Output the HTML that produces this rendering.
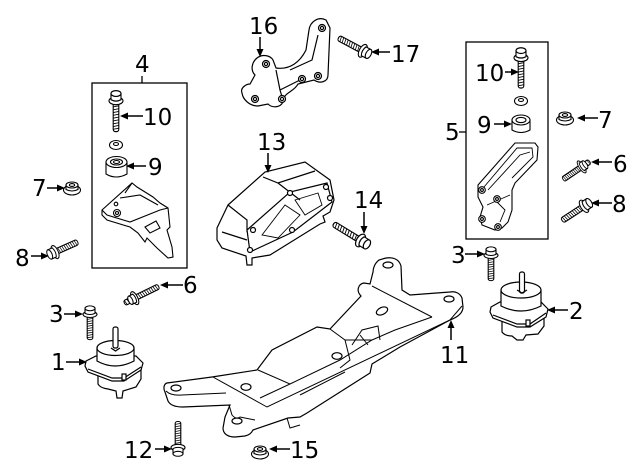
<!DOCTYPE html>
<html><head><meta charset="utf-8"><style>
html,body{margin:0;padding:0;background:#fff;}
body{width:640px;height:471px;overflow:hidden;}
svg{display:block;}
text{font-family:"DejaVu Sans","Liberation Sans",sans-serif;font-size:23px;fill:#000;}
</style></head><body>
<svg width="640" height="471" viewBox="0 0 640 471" xmlns="http://www.w3.org/2000/svg">
<defs>
 <g id="bolt" fill="#fff" stroke="#000" stroke-width="1.1">
  <rect x="-2.8" y="3" width="5.6" height="27" rx="2.2"/>
  <path d="M-2.8,8 L2.8,7 M-2.8,10.5 L2.8,9.5 M-2.8,13 L2.8,12 M-2.8,15.5 L2.8,14.5 M-2.8,18 L2.8,17 M-2.8,20.5 L2.8,19.5 M-2.8,23 L2.8,22 M-2.8,25.5 L2.8,24.5 M-2.8,28 L2.8,27" stroke-width="0.8"/>
  <ellipse cx="0" cy="2.5" rx="7" ry="3.5"/>
  <path d="M-5,-4 L-5,1.5 Q0,4 5,1.5 L5,-4 Z"/>
  <ellipse cx="0" cy="-4" rx="5" ry="2.6"/>
 </g>
 <g id="nut" fill="#fff" stroke="#000" stroke-width="1.1">
  <ellipse cx="0" cy="2" rx="8.5" ry="5"/>
  <path d="M-6,-3 L-6,1.5 Q0,4.5 6,1.5 L6,-3 Z"/>
  <ellipse cx="0" cy="-3" rx="6" ry="3"/>
  <ellipse cx="0" cy="-3" rx="2.6" ry="1.4"/>
 </g>
 <g id="stud" fill="#fff" stroke="#000" stroke-width="1.1">
  <rect x="-2.6" y="-10" width="5.2" height="40" rx="2"/>
  <path d="M-2.6,8 L2.6,7 M-2.6,10.5 L2.6,9.5 M-2.6,13 L2.6,12 M-2.6,15.5 L2.6,14.5 M-2.6,18 L2.6,17 M-2.6,20.5 L2.6,19.5 M-2.6,23 L2.6,22 M-2.6,25.5 L2.6,24.5 M-2.6,28 L2.6,27 M-2.6,-5 L2.6,-6 M-2.6,-8 L2.6,-9" stroke-width="0.8"/>
  <ellipse cx="0" cy="2" rx="7" ry="3.2"/>
  <path d="M-4.5,-3 L-4.5,2 Q0,4 4.5,2 L4.5,-3 Z"/>
  <ellipse cx="0" cy="-3" rx="4.5" ry="2.2"/>
 </g>
</defs>

<!-- boxes -->
<g fill="none" stroke="#000" stroke-width="1.3">
 <rect x="92" y="83" width="95" height="185"/>
 <line x1="142" y1="76" x2="142" y2="83"/>
 <rect x="466" y="42" width="82" height="197"/>
 <line x1="459" y1="132" x2="466" y2="132"/>
</g>

<!-- part 16 bracket -->
<g fill="#fff" stroke="#000" stroke-width="1.2">
 <path d="M257,58 C262,54 270,55 273,60 L276,68 C290,70 300,62 306,50 L309,30 C310,22 318,16 326,20 L330,28 L328,75 C328,82 320,84 314,80 L298,84 C295,90 288,92 285,96 L283,102 C280,108 272,108 268,104 L258,106 C250,106 243,100 242,93 C240,88 246,84 250,84 L255,75 C250,70 252,62 257,58 Z"/>
 <path d="M276,70 L280,90 L283,100 M280,90 L300,80 M290,70 L312,60 L318,35" fill="none"/>
 <circle cx="266" cy="64" r="3.5"/><circle cx="266" cy="64" r="1.6"/>
 <circle cx="255" cy="99" r="3.5"/><circle cx="255" cy="99" r="1.6"/>
 <circle cx="282" cy="99" r="3.5"/><circle cx="282" cy="99" r="1.6"/>
 <circle cx="302" cy="79" r="3.5"/><circle cx="302" cy="79" r="1.6"/>
 <circle cx="318" cy="76" r="3.5"/><circle cx="318" cy="76" r="1.6"/>
 <circle cx="322" cy="28" r="3.5"/><circle cx="322" cy="28" r="1.6"/>
</g>

<!-- bolt 17 -->
<use href="#bolt" transform="translate(365,52) rotate(118)"/>

<!-- part 13 housing -->
<g fill="#fff" stroke="#000" stroke-width="1.2">
 <path d="M228,205 L265,172 L305,162 L330,180 L334,200 L330,212 L323,216 L325,222 L320,224 L270,255 L252,258 L252,265 L247,265 L246,256 L222,248 L217,240 L217,228 Z"/>
 <path d="M263,177 L278,183 L315,171 M278,183 L300,200 M228,205 L247,220 L247,232 M222,232 L247,240 M247,230 L290,192 L327,183 L332,202 L293,232 L250,252 Z" fill="none"/>
 <path d="M262,235 L285,205 L300,215 L278,238 Z M295,200 L318,193 L322,205 L305,215 Z" fill="none" stroke-width="0.9"/>
 <circle cx="253" cy="230" r="2.5"/><circle cx="290" cy="193" r="2.5"/><circle cx="326" cy="187" r="2.5"/>
 <circle cx="330" cy="198" r="2.5"/><circle cx="292" cy="230" r="2.5"/><circle cx="250" cy="250" r="2.5"/>
</g>

<!-- bolt 14 -->
<use href="#bolt" transform="translate(363,242) rotate(121.5) scale(1,1.15)"/>

<!-- box 4 contents -->
<use href="#bolt" transform="translate(116,98) scale(1,1.12)"/>
<g fill="#fff" stroke="#000" stroke-width="1.1">
 <ellipse cx="116" cy="145" rx="6.5" ry="4.5"/><ellipse cx="116" cy="144" rx="2.5" ry="1.5"/>
 <path d="M106,162 L106,174 Q116,180 127,174 L127,162 Z"/>
 <ellipse cx="116.5" cy="162" rx="10.5" ry="5.5"/>
 <ellipse cx="116.5" cy="162" rx="6" ry="3"/><ellipse cx="116.5" cy="162" rx="3" ry="1.5"/>
 <path d="M102,210 L132,183 L137,187 L153,197 L160,203 L168,208 L170,227 L167,230 L172,247 L173,257 L168,258 L157,248 L147,238 L145,242 L138,233 L130,227 L107,220 L102,215 Z"/>
 <path d="M102,210 L107,215 L130,222 L160,210 L168,208 M120,198 L140,195 L158,205 M132,183 L125,193 M145,227 L156,221 L160,228 L150,233 Z" fill="none"/>
 <circle cx="117" cy="213" r="3.5"/><circle cx="117" cy="213" r="1.5"/>
 <circle cx="116" cy="204" r="1.8"/>
</g>

<!-- box 5 contents -->
<use href="#bolt" transform="translate(521,55) scale(1,1.1)"/>
<g fill="#fff" stroke="#000" stroke-width="1.1">
 <ellipse cx="521" cy="101" rx="6.5" ry="4.5"/><ellipse cx="521" cy="100" rx="2.5" ry="1.5"/>
 <path d="M512,120 L512,130 Q521,135 530,130 L530,120 Z"/>
 <ellipse cx="521" cy="120" rx="9" ry="5"/>
 <ellipse cx="521" cy="120" rx="5" ry="2.6"/>
 <path d="M478,185 L515,143 L535,143 L538,147 L537,160 L515,183 L512,190 L512,210 L508,222 L502,228 L495,230 L482,225 L480,217 L483,207 L478,197 Z"/>
 <path d="M484,187 L517,148 L532,148 L533,157 L512,178 M488,190 L520,155 L530,152 M495,200 L505,210 L500,222 M487,205 L510,195" fill="none" stroke-width="0.9"/>
 <circle cx="482" cy="190" r="3.3"/><circle cx="482" cy="190" r="1.4"/>
 <circle cx="497" cy="199" r="3.3"/><circle cx="497" cy="199" r="1.4"/>
 <circle cx="482" cy="219" r="3.3"/><circle cx="482" cy="219" r="1.4"/>
 <circle cx="498" cy="227" r="3.3"/><circle cx="498" cy="227" r="1.4"/>
</g>

<!-- nuts 7 -->
<use href="#nut" transform="translate(72,188)"/>
<use href="#nut" transform="translate(565,118)"/>

<!-- bolts 6 / 8 right -->
<use href="#stud" transform="translate(583,166) rotate(56) scale(1,0.8)"/>
<use href="#bolt" transform="translate(586,205) rotate(57) scale(1,0.95)"/>
<!-- bolt 8 left -->
<use href="#bolt" transform="translate(53,253) rotate(-114) scale(1,0.9)"/>
<!-- bolt 6 mid -->
<use href="#stud" transform="translate(133,299) rotate(-116) scale(1,0.95)"/>
<!-- bolts 3 -->
<use href="#bolt" transform="translate(90,312) scale(1,0.92)"/>
<use href="#bolt" transform="translate(491,253) scale(1,0.92)"/>
<!-- bolt 12 -->
<use href="#bolt" transform="translate(178,450) rotate(180) scale(1,0.95)"/>
<!-- nut 15 -->
<use href="#nut" transform="translate(260,452)"/>

<!-- mount 1 -->
<g fill="#fff" stroke="#000" stroke-width="1.2">
 <path d="M98,370 L98,384 Q100,388 108,389 L116,391 L117,398 L122,398 L123,391 L136,387 L141,379 L141,367 Z"/>
 <path d="M86,361 L96,356 L136,356 L143,363 L141,370 L124,381 L112,381 L88,372 L85,366 Z"/>
 <path d="M88,369 L112,378 L124,378 L141,367" fill="none"/>
 <path d="M97,348 L97,361 Q115,371 134,361 L134,348 Z"/>
 <ellipse cx="115.5" cy="348" rx="18.5" ry="7.5"/>
 <rect x="113" y="327" width="5" height="21" rx="2"/>
 <path d="M111,348 L115.5,351 L120,348" fill="none"/>
 <rect x="122" y="374" width="4" height="6"/>
</g>

<!-- mount 2 -->
<g fill="#fff" stroke="#000" stroke-width="1.2">
 <path d="M502,316 L502,332 Q505,336 512,336 L517,340 L523,340 L526,335 L538,334 L544,326 L544,313 Z"/>
 <path d="M491,307 L500,302 L541,302 L548,309 L546,317 L530,327 L517,327 L493,318 L490,312 Z"/>
 <path d="M493,315 L517,324 L530,324 L546,313" fill="none"/>
 <path d="M501,290 L501,306 Q521,316 541,306 L541,290 Z"/>
 <ellipse cx="521" cy="290" rx="20" ry="8"/>
 <rect x="519.5" y="272" width="5" height="21" rx="2"/>
 <path d="M517,290 L522,293 L527,290" fill="none"/>
 <rect x="526" y="320" width="4" height="6"/>
</g>

<!-- crossmember 11 -->
<g fill="#fff" stroke="#000" stroke-width="1.2">
 <path d="M167,383 C164,384 163,388 165,392 L168,401 C170,405 175,407 183,407 L230,405 L225,417 L223,428 C223,434 228,437 235,437 L245,436 C250,435 252,432 253,430 L288,418 L300,417 L307,413 L370,373 L372,364 L400,347 L450,320 C458,317 463,313 463,307 L462,298 C460,293 455,291 450,292 L410,295 L402,290 L401,266 C399,259 393,257 386,258 L379,260 C375,263 373,268 373,272 L370,284 L364,283 C358,284 356,291 361,296 L330,329 L317,327 L272,350 L257,370 L212,377 Z"/>
 <path d="M166,391 Q171,396 182,395 L226,393 M213,377 L267,407 L450,320 L462,306 M372,286 L432,317 M258,370 L290,384 L260,398 M290,384 L340,360 L372,340 L395,330 L432,317 M300,395 L345,372 M330,329 L345,340 L372,340 M345,340 L350,360 L340,368 M352,345 L362,330 L378,326 L380,340 M360,335 L368,345 M229,405 L232,415 Q236,420 240,417 L255,420 M287,418 L290,428 L300,425" fill="none" stroke-width="1"/>
 <ellipse cx="176" cy="388" rx="5" ry="3"/>
 <ellipse cx="237" cy="421" rx="5" ry="3"/>
 <ellipse cx="246" cy="387" rx="5" ry="3.3"/>
 <ellipse cx="337" cy="356" rx="5" ry="3.3"/>
 <ellipse cx="388" cy="265" rx="5" ry="3"/>
 <ellipse cx="449" cy="299" rx="5" ry="3"/>
 <ellipse cx="382" cy="311" rx="6" ry="3.5" transform="rotate(-25 382 311)"/>
</g>

<!-- arrows -->
<g stroke="#000" stroke-width="1.5" fill="none">
 <line x1="260" y1="37" x2="260" y2="50"/>
 <line x1="268" y1="153" x2="268" y2="166"/>
 <line x1="364" y1="212" x2="364" y2="227"/>
 <line x1="451" y1="340" x2="451" y2="327"/>
 <line x1="143" y1="116" x2="127" y2="116"/>
 <line x1="146" y1="166" x2="133" y2="166"/>
 <line x1="47" y1="188" x2="58" y2="188"/>
 <line x1="390" y1="52" x2="378" y2="52"/>
 <line x1="505" y1="72" x2="512" y2="72"/>
 <line x1="494" y1="124" x2="505" y2="124"/>
 <line x1="598" y1="118" x2="584" y2="118"/>
 <line x1="612" y1="162" x2="598" y2="162"/>
 <line x1="612" y1="203" x2="598" y2="203"/>
 <line x1="31" y1="256" x2="42" y2="256"/>
 <line x1="183" y1="285" x2="167" y2="285"/>
 <line x1="64" y1="314" x2="76" y2="314"/>
 <line x1="66" y1="362" x2="80" y2="362"/>
 <line x1="155" y1="449" x2="165" y2="449"/>
 <line x1="290" y1="449" x2="276" y2="449"/>
 <line x1="465" y1="254" x2="478" y2="254"/>
 <line x1="568" y1="310" x2="554" y2="310"/>
</g>
<g fill="#000">
 <polygon points="260,57 256.5,49 263.5,49"/>
 <polygon points="268,173 264.5,165 271.5,165"/>
 <polygon points="364,234 360.5,226 367.5,226"/>
 <polygon points="451,320 447.5,328 454.5,328"/>
 <polygon points="120,116 128,112.5 128,119.5"/>
 <polygon points="126,166 134,162.5 134,169.5"/>
 <polygon points="65,188 57,184.5 57,191.5"/>
 <polygon points="371,52 379,48.5 379,55.5"/>
 <polygon points="519,72 511,68.5 511,75.5"/>
 <polygon points="512,124 504,120.5 504,127.5"/>
 <polygon points="577,118 585,114.5 585,121.5"/>
 <polygon points="591,162 599,158.5 599,165.5"/>
 <polygon points="591,203 599,199.5 599,206.5"/>
 <polygon points="49,256 41,252.5 41,259.5"/>
 <polygon points="160,285 168,281.5 168,288.5"/>
 <polygon points="83,314 75,310.5 75,317.5"/>
 <polygon points="87,362 79,358.5 79,365.5"/>
 <polygon points="172,449 164,445.5 164,452.5"/>
 <polygon points="269,449 277,445.5 277,452.5"/>
 <polygon points="485,254 477,250.5 477,257.5"/>
 <polygon points="547,310 555,306.5 555,313.5"/>
</g>

<!-- labels -->
<text x="249" y="34">16</text>
<text x="135" y="72">4</text>
<text x="143" y="125">10</text>
<text x="148" y="175">9</text>
<text x="32" y="196">7</text>
<text x="257" y="150">13</text>
<text x="391" y="62">17</text>
<text x="475" y="81">10</text>
<text x="477" y="133">9</text>
<text x="598" y="128">7</text>
<text x="613" y="172">6</text>
<text x="612" y="212">8</text>
<text x="445" y="140">5</text>
<text x="354" y="208">14</text>
<text x="15" y="266">8</text>
<text x="183" y="293">6</text>
<text x="49" y="322">3</text>
<text x="51" y="370">1</text>
<text x="124" y="458">12</text>
<text x="290" y="458">15</text>
<text x="451" y="263">3</text>
<text x="569" y="319">2</text>
<text x="440" y="363">11</text>
</svg>
</body></html>
